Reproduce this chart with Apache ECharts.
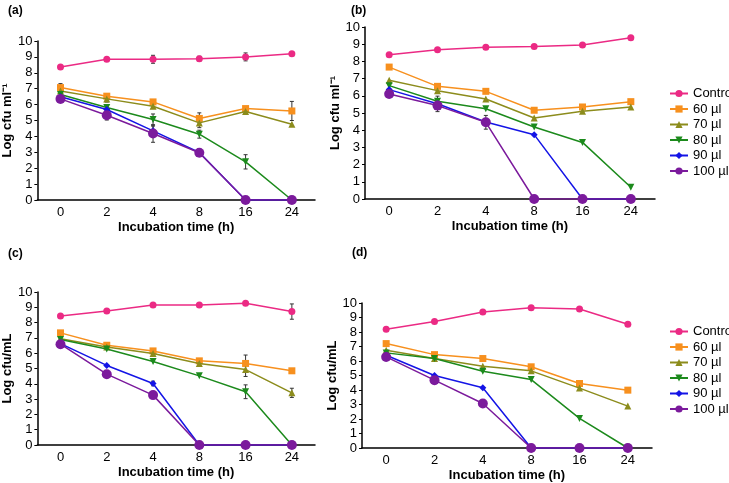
<!DOCTYPE html>
<html>
<head>
<meta charset="utf-8">
<script src="https://cdn.jsdelivr.net/npm/echarts@6/dist/echarts.min.js"></script>
<style>
  html, body { margin: 0; padding: 0; background: #fff; }
  #main { width: 729px; height: 483px; }
</style>
</head>
<body>
<div id="main"></div>
<script>
// x categories (incubation time, h)
const hours = ['0', '2', '4', '8', '16', '24']
const seriesNames = ['Control', '60 µl', '70 µl', '80 µl', '90 µl', '100 µl']

// rows: Control, 60, 70, 80, 90, 100 µl
const valuesA = [
  [8.37, 8.85, 8.85, 8.89, 9.0, 9.2],
  [7.07, 6.53, 6.17, 5.13, 5.75, 5.6],
  [6.86, 6.36, 5.9, 4.85, 5.56, 4.77],
  [6.63, 5.82, 5.06, 4.14, 2.4, 0],
  [6.49, 5.69, 4.35, 2.99, 0, 0],
  [6.36, 5.33, 4.18, 2.97, 0, 0]
]
const errorsA = [
  [0, 0.1, 0.25, 0.15, 0.25, 0],
  [0.25, 0, 0, 0.35, 0, 0.6],
  [0, 0.2, 0, 0.3, 0, 0],
  [0, 0, 0.35, 0.25, 0.45, 0],
  [0, 0, 0.3, 0, 0, 0],
  [0, 0.3, 0.55, 0, 0, 0]
]
const valuesB = [
  [8.39, 8.68, 8.82, 8.86, 8.95, 9.38],
  [7.67, 6.55, 6.26, 5.16, 5.35, 5.66],
  [6.9, 6.3, 5.81, 4.71, 5.1, 5.35],
  [6.59, 5.68, 5.25, 4.19, 3.29, 0.68],
  [6.36, 5.54, 4.48, 3.74, 0, 0],
  [6.1, 5.43, 4.46, 0, 0, 0]
]
const errorsB = [
  [0, 0, 0, 0, 0, 0],
  [0, 0, 0, 0, 0, 0],
  [0, 0, 0, 0, 0, 0],
  [0, 0.3, 0, 0, 0, 0],
  [0, 0, 0, 0, 0, 0],
  [0, 0.35, 0.4, 0, 0, 0]
]
const valuesC = [
  [8.43, 8.76, 9.15, 9.15, 9.26, 8.72],
  [7.33, 6.52, 6.15, 5.5, 5.33, 4.85],
  [6.95, 6.41, 5.98, 5.33, 4.93, 3.41],
  [6.89, 6.28, 5.46, 4.52, 3.48, 0],
  [6.63, 5.2, 4.02, 0, 0, 0],
  [6.59, 4.63, 3.26, 0, 0, 0]
]
const errorsC = [
  [0, 0, 0, 0, 0, 0.5],
  [0, 0, 0, 0, 0.55, 0],
  [0, 0, 0, 0, 0.45, 0.3],
  [0, 0, 0, 0, 0.45, 0],
  [0, 0, 0.15, 0, 0, 0],
  [0, 0, 0, 0, 0, 0]
]
const valuesD = [
  [8.19, 8.72, 9.38, 9.68, 9.59, 8.53],
  [7.2, 6.44, 6.17, 5.6, 4.45, 3.99],
  [6.74, 6.17, 5.64, 5.32, 4.13, 2.89],
  [6.56, 6.17, 5.3, 4.72, 2.04, 0],
  [6.4, 5.0, 4.15, 0, 0, 0],
  [6.28, 4.68, 3.07, 0, 0, 0]
]
const yTicks = [0, 10, 1] // min, max, interval

const colors = ['#EB2A84', '#F7901E', '#8C8C1C', '#1C8A1C', '#1414E6', '#7B1A9C']
const symbols = ['circle', 'rect', 'triangle', 'triangle', 'diamond', 'circle']
const symbolSizes = [7, 7, 7, 7, 7, 10]
const symbolRotates = [0, 0, 0, 180, 0, 0]

const FONT = 'Liberation Sans, Arial, sans-serif'

// grid boxes in pixels
const grids = [
  { left: 34, top: 41, width: 281, height: 159 },
  { left: 365, top: 27, width: 290, height: 172 },
  { left: 36, top: 292, width: 279, height: 153 },
  { left: 362, top: 303, width: 290, height: 145 }
]
const yNames = ['Log cfu ml⁻¹', 'Log cfu ml⁻¹', 'Log cfu/mL', 'Log cfu/mL']
const panels = [valuesA, valuesB, valuesC, valuesD]
const panelErrors = [errorsA, errorsB, errorsC, null]

function renderErr (params, api) {
  const x = api.value(0)
  const top = api.coord([x, api.value(2)])
  const bot = api.coord([x, api.value(1)])
  const w = 2
  const style = { stroke: '#333', lineWidth: 1 }
  return {
    type: 'group',
    children: [
      { type: 'line', shape: { x1: top[0], y1: top[1], x2: bot[0], y2: bot[1] }, style: style },
      { type: 'line', shape: { x1: top[0] - w, y1: top[1], x2: top[0] + w, y2: top[1] }, style: style },
      { type: 'line', shape: { x1: bot[0] - w, y1: bot[1], x2: bot[0] + w, y2: bot[1] }, style: style }
    ]
  }
}

const xAxes = []
const yAxes = []
const series = []
grids.forEach(function (g, k) {
  xAxes.push({
    gridIndex: k,
    type: 'category',
    data: hours,
    boundaryGap: true,
    name: 'Incubation time (h)',
    nameLocation: 'middle',
    nameGap: 21,
    nameTextStyle: { fontFamily: FONT, fontWeight: 'bold', fontSize: 13, color: '#000' },
    axisLine: { lineStyle: { color: '#000', width: 1.5 } },
    axisTick: { alignWithLabel: true, length: 3, lineStyle: { color: '#000' } },
    axisLabel: { fontFamily: FONT, fontSize: 13, color: '#000', margin: 6 },
    splitLine: { show: false }
  })
  yAxes.push({
    gridIndex: k,
    type: 'value',
    min: yTicks[0],
    max: yTicks[1],
    interval: yTicks[2],
    name: yNames[k],
    nameLocation: 'middle',
    nameGap: 22,
    nameTextStyle: { fontFamily: FONT, fontWeight: 'bold', fontSize: 13, color: '#000' },
    axisLine: { show: true, lineStyle: { color: '#000', width: 1.5 } },
    axisTick: { show: true, length: 3, lineStyle: { color: '#000' } },
    axisLabel: { fontFamily: FONT, fontSize: 13, color: '#000', margin: 5 },
    splitLine: { show: false }
  })
  const vals = panels[k]
  const errs = panelErrors[k]
  if (errs) {
    const errData = []
    errs.forEach(function (row, i) {
      row.forEach(function (e, j) {
        if (e > 0) errData.push([j, vals[i][j] - e, vals[i][j] + e])
      })
    })
    series.push({
      type: 'custom',
      xAxisIndex: k,
      yAxisIndex: k,
      renderItem: renderErr,
      encode: { x: 0, y: [1, 2] },
      data: errData,
      z: 1,
      silent: true
    })
  }
  vals.forEach(function (row, i) {
    series.push({
      name: seriesNames[i],
      type: 'line',
      xAxisIndex: k,
      yAxisIndex: k,
      data: row,
      symbol: symbols[i],
      symbolSize: symbolSizes[i],
      symbolRotate: symbolRotates[i],
      showAllSymbol: true,
      color: colors[i],
      lineStyle: { color: colors[i], width: 1.5 },
      itemStyle: { color: colors[i] },
      z: 2 + i,
      emphasis: { disabled: true }
    })
  })
})

const legendBase = {
  orient: 'vertical',
  data: seriesNames,
  itemWidth: 18,
  itemHeight: 9,
  itemGap: 2.5,
  textStyle: { fontFamily: FONT, fontSize: 13, color: '#000' },
  selectedMode: false
}

const option = {
  animation: false,
  backgroundColor: '#fff',
  title: [
    { text: '(a)', left: 3, top: 0 },
    { text: '(b)', left: 346, top: 0 },
    { text: '(c)', left: 3, top: 243 },
    { text: '(d)', left: 347, top: 242 }
  ].map(function (t) {
    t.textStyle = { fontFamily: FONT, fontWeight: 'bold', fontSize: 12, color: '#000' }
    return t
  }),
  legend: [
    Object.assign({ left: 664, top: 82 }, legendBase),
    Object.assign({ left: 664, top: 320 }, legendBase)
  ],
  grid: grids,
  xAxis: xAxes,
  yAxis: yAxes,
  series: series
}

const chart = echarts.init(document.getElementById('main'))
chart.setOption(option)
window.onresize = chart.resize
</script>
</body>
</html>
